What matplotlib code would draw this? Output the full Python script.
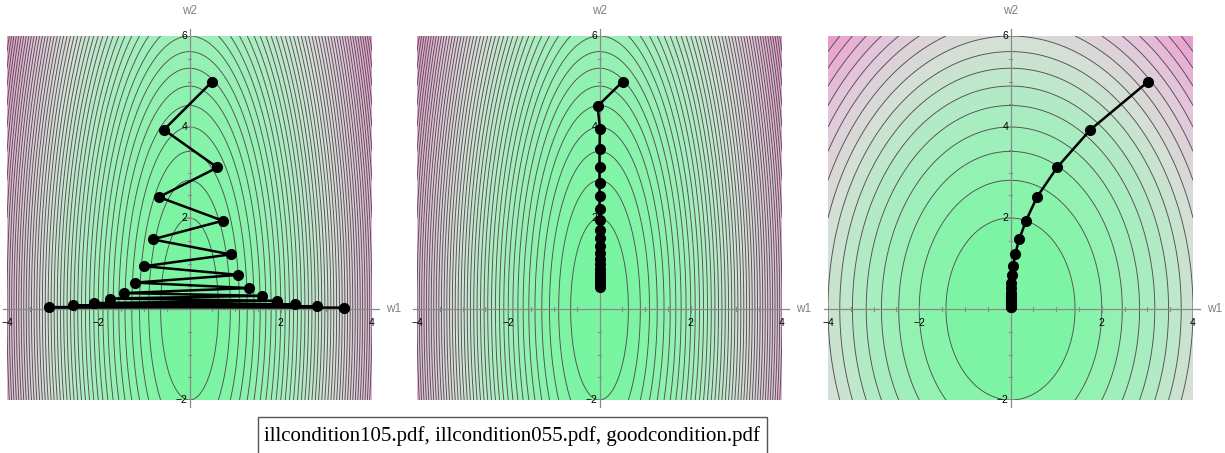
import matplotlib
matplotlib.use("Agg")
import matplotlib.pyplot as plt
import numpy as np
from matplotlib.colors import LinearSegmentedColormap
from matplotlib.patches import Rectangle

# quadratic error surfaces E = (a*w1^2 + b*w2^2) / 2, contour step in E
coef_a = [10.0, 10.0, 2.0]
coef_b = [1.0, 1.0, 1.0]
level_step = 2.0

# gradient descent paths
p1_w1 = [0.50, -0.56, 0.61, -0.67, 0.73, -0.81, 0.90, -0.99, 1.07, -1.19, 1.30,
         -1.44, 1.58, -1.74, 1.91, -2.10, 2.31, -2.55, 2.80, -3.08, 3.39]
p1_w2 = [5.00, 3.94, 3.11, 2.46, 1.94, 1.53, 1.20, 0.94, 0.75, 0.58, 0.46,
         0.35, 0.29, 0.23, 0.18, 0.13, 0.10, 0.08, 0.06, 0.04, 0.03]

p2_w1 = [0.51, -0.04, 0.01, 0.0, 0.0, 0.0, 0.0, 0.0, 0.0, 0.0, 0.0,
         0.0, 0.0, 0.0, 0.0, 0.0, 0.0, 0.0, 0.0, 0.0, 0.0]
p2_w2 = [5.00, 4.46, 3.95, 3.51, 3.13, 2.78, 2.48, 2.20, 1.95, 1.74, 1.55,
         1.38, 1.23, 1.10, 0.98, 0.88, 0.79, 0.71, 0.63, 0.56, 0.49]

p3_w1 = [3.02, 1.75, 1.02, 0.58, 0.34, 0.19, 0.10, 0.06, 0.03, 0.015, 0.01,
         0.005, 0.003, 0.002, 0.001, 0.0, 0.0, 0.0, 0.0, 0.0, 0.0]
p3_w2 = [5.00, 3.94, 3.11, 2.46, 1.94, 1.53, 1.20, 0.94, 0.75, 0.58, 0.46,
         0.36, 0.29, 0.23, 0.18, 0.14, 0.11, 0.09, 0.07, 0.05, 0.04]

paths = [(p1_w1, p1_w2), (p2_w1, p2_w2), (p3_w1, p3_w2)]

x_ticks = [-4, -2, 2, 4]
y_ticks = [-2, 2, 4, 6]
caption = "illcondition105.pdf, illcondition055.pdf, goodcondition.pdf"

W, H = 1225, 453
fig = plt.figure(figsize=(W / 100, H / 100), dpi=100)

cmap = LinearSegmentedColormap.from_list(
    "gp", [(0.0, "#78f5a0"), (0.25, "#a6eebf"), (0.5, "#d4e0d6"),
           (0.75, "#e4c2da"), (1.0, "#ea98cc")])

# panel boxes in pixels: left, right, top, bottom
boxes = [(7, 372, 36, 400), (417, 782, 36, 400), (828, 1193, 36, 400)]

w1 = np.linspace(-4, 4, 1001)
w2 = np.linspace(-2, 6, 1001)
G1, G2 = np.meshgrid(w1, w2)

for i, (l, r, t, b) in enumerate(boxes):
    ax = fig.add_axes([l / W, 1 - b / H, (r - l) / W, (b - t) / H])
    E = (coef_a[i] * G1 ** 2 + coef_b[i] * G2 ** 2) / 2
    levels = np.arange(0, E.max() + level_step, level_step)
    ax.contourf(G1, G2, E, levels=levels, cmap=cmap, vmin=0, vmax=E.max())
    ax.contour(G1, G2, E, levels=levels[1:], colors="#505050", linewidths=0.65)
    ax.set_xlim(-4, 4)
    ax.set_ylim(-2, 6)
    ax.axis("off")

    # axes through the origin
    ax.plot([-4.08, 4.15], [0, 0], color="#8a8a8a", lw=0.9, clip_on=False, zorder=3)
    ax.plot([0, 0], [-2.15, 6.15], color="#8a8a8a", lw=0.9, clip_on=False, zorder=3)
    for v in np.arange(-4, 4.01, 0.5):
        if v == 0:
            continue
        h = 0.07 if v % 2 == 0 else 0.035
        ax.plot([v, v], [-h, h], color="#8a8a8a", lw=0.8, zorder=3)
    for v in np.arange(-2, 6.01, 0.5):
        if v == 0:
            continue
        h = 0.07 if v % 2 == 0 else 0.035
        ax.plot([-h, h], [v, v], color="#8a8a8a", lw=0.8, zorder=3)

    xs, ys = paths[i]
    ax.plot(xs, ys, color="black", lw=1.8, marker="o", markersize=7, zorder=4)

    for v in x_ticks:
        ax.text(v, -0.2, str(v).replace("-", "\u2212"), ha="center", va="top",
                fontsize=7.5, family="Liberation Sans", zorder=5)
    for v in y_ticks:
        ax.text(-0.05, v, str(v).replace("-", "\u2212"), ha="right", va="center",
                fontsize=7.5, family="Liberation Sans", zorder=5)
    ax.text(4.3, 0, "w1", ha="left", va="center", fontsize=8.5, color="#808080",
            family="Liberation Sans", clip_on=False)
    ax.text(0, 6.55, "w2", ha="center", va="center", fontsize=8.5, color="#808080",
            family="Liberation Sans", clip_on=False)

fig.patches.append(Rectangle((258 / W, -0.01), (767 - 258) / W, (1 - 417 / H) + 0.01,
                             transform=fig.transFigure, fill=False,
                             edgecolor="#555555", lw=1.0))
fig.text(512 / W, 1 - 436 / H, caption, ha="center", va="center",
         fontsize=15, family="Liberation Serif")

fig.savefig("out.png", dpi=100)
